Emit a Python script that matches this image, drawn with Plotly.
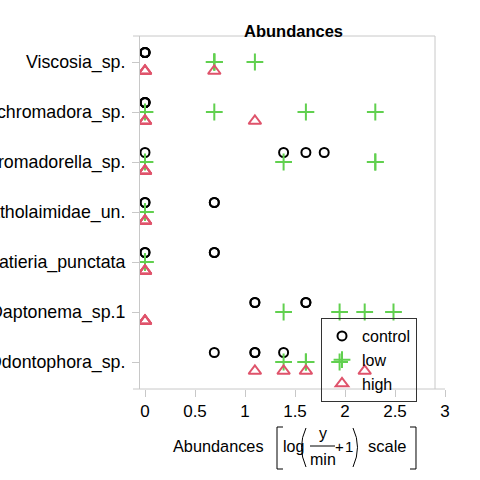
import plotly.graph_objects as go

species = ["Odontophora_sp.", "Daptonema_sp.1", "Sabatieria_punctata", "Cyatholaimidae_un.",
           "Chromadorella_sp.", "Dichromadora_sp.", "Viscosia_sp."]

# abundances on log(y/min+1) scale, one list per species (bottom to top)
control = [
    [0.693, 1.099, 1.099, 1.386],
    [1.099, 1.099, 1.609, 1.609],
    [0, 0, 0.693, 0.693],
    [0, 0, 0.693, 0.693],
    [0, 1.386, 1.609, 1.792],
    [0, 0, 0, 0],
    [0, 0, 0, 0],
]
low = [
    [1.386, 1.609, 1.609, 1.946],
    [1.386, 1.946, 2.197, 2.485],
    [0, 0, 0, 0],
    [0, 0, 0, 0],
    [0, 1.386, 2.303, 2.303],
    [0, 0.693, 1.609, 2.303],
    [0.693, 0.693, 0.693, 1.099],
]
high = [
    [1.099, 1.386, 1.609, 2.197],
    [0, 0, 0, 0],
    [0, 0, 0, 0],
    [0, 0, 0, 0],
    [0, 0, 0, 0],
    [0, 0, 0, 1.099],
    [0, 0, 0, 0.693],
]
x_ticks = [0, 0.5, 1, 1.5, 2, 2.5, 3]
x_ticktext = ["0", "0.5", "1", "1.5", "2", "2.5", "3"]

series = [("control", control, 0.19, "circle-open", "black", 9),
          ("low", low, 0.0, "cross-thin-open", "#61D04F", 12),
          ("high", high, -0.18, "triangle-up-open", "#DF536B", 11)]

FONT = "Liberation Sans, Arial, sans-serif"
L, R, T, B = 140, 450, 36, 389


def P(px, py):
    return (px - L) / (R - L), (B - py) / (B - T)


fig = go.Figure()
for name, data, off, sym, col, sz in series:
    xs, ys = [], []
    for i, vals in enumerate(data):
        for v in vals:
            xs.append(v)
            ys.append(i + off)
    fig.add_trace(go.Scatter(
        x=xs, y=ys, mode="markers", name=name,
        marker=dict(symbol=sym, size=sz, color=col, line=dict(color=col, width=2)),
    ))

gray = "#c8c8c8"
shapes = []


def line(p1, p2, color=gray, w=1):
    x0, y0 = P(*p1)
    x1, y1 = P(*p2)
    shapes.append(dict(type="line", xref="paper", yref="paper", x0=x0, y0=y0, x1=x1, y1=y1,
                       line=dict(color=color, width=w)))


def path(pts_cmd, color="black", w=1):
    shapes.append(dict(type="path", xref="paper", yref="paper", path=pts_cmd,
                       line=dict(color=color, width=w)))


def pp(px, py):
    a, b = P(px, py)
    return f"{a:.5f},{b:.5f}"


# frame lines
line((133, 36), (435, 36))
line((435, 36), (435, 389))
line((133, 389), (445, 389))

# x-label math decorations
line((310, 446), (335, 446), color="black")
path(f"M {pp(283,427)} L {pp(277,427)} L {pp(277,469)} L {pp(283,469)}")
path(f"M {pp(410,427)} L {pp(416,427)} L {pp(416,469)} L {pp(410,469)}")
path(f"M {pp(306,428)} Q {pp(297,447)} {pp(306,467)}")
path(f"M {pp(353,428)} Q {pp(362,447)} {pp(353,467)}")

annotations = []


def ann(text, px, py, xanchor="left", size=16, bold=False):
    a, b = P(px, py)
    annotations.append(dict(text=f"<b>{text}</b>" if bold else text, x=a, y=b, xref="paper", yref="paper",
                            xanchor=xanchor, yanchor="middle", showarrow=False,
                            font=dict(family=FONT, size=size, color="black")))


ann("Abundances", 293, 31, xanchor="center", size=16.5, bold=True)
ann("Abundances", 171, 446, size=16.3)
ann("log", 281, 446)
ann("y", 322.5, 433, xanchor="center")
ann("min", 322.5, 459, xanchor="center")
ann("+", 339.5, 446, xanchor="center", size=15)
ann("1", 349, 446, xanchor="center", size=15)
ann("scale", 366, 446, size=16.5)

fig.update_layout(
    width=480, height=480,
    margin=dict(l=L, r=480 - R, t=T, b=480 - B, pad=0),
    template="none",
    plot_bgcolor="rgba(0,0,0,0)", paper_bgcolor="white",
    font=dict(family=FONT, size=16, color="black"),
    showlegend=True,
    legend=dict(x=(321 - L) / (R - L), y=(B - 318) / (B - T), xanchor="left", yanchor="top",
                bgcolor="rgba(0,0,0,0)", bordercolor="#333333", borderwidth=1,
                font=dict(family=FONT, size=16, color="black"), tracegroupgap=0),
    shapes=shapes, annotations=annotations,
    xaxis=dict(range=[-0.05, 3.05], tickvals=x_ticks, ticktext=x_ticktext, ticks="outside",
               ticklen=7, tickcolor=gray, showline=False, showgrid=False, zeroline=False,
               automargin=False, tickfont=dict(family=FONT, size=17, color="black")),
    yaxis=dict(range=[-0.54, 6.52], tickvals=list(range(len(species))), ticktext=species,
               ticks="outside", ticklen=7, tickcolor=gray, showline=True, linecolor=gray,
               showgrid=False, zeroline=False, automargin=False, ticklabelstandoff=3,
               tickfont=dict(family=FONT, size=17.8, color="black")),
)

fig.write_html("out.html")
